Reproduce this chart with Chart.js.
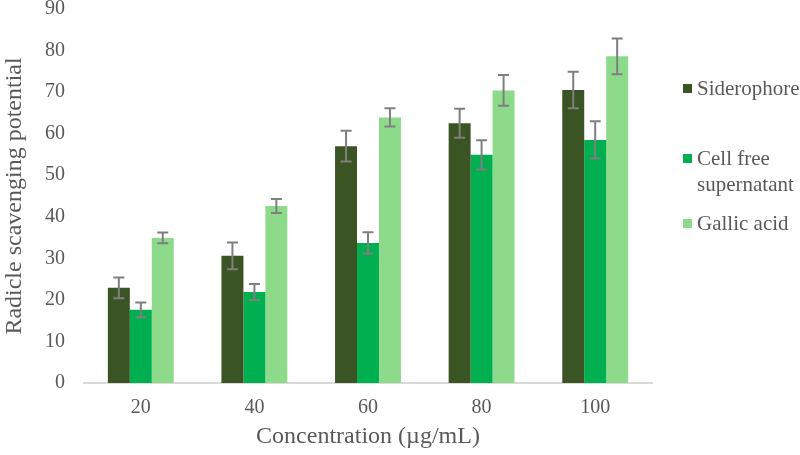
<!DOCTYPE html>
<html>
<head>
<meta charset="utf-8">
<script src="https://cdn.jsdelivr.net/npm/chart.js@4/dist/chart.umd.min.js"></script>
<style>
  html, body { margin: 0; padding: 0; background: #fff; }
  #wrap { position: relative; width: 800px; height: 455px; }
  #legenda { position: absolute; left: 683px; top: 75px; font-family: "Liberation Serif", serif; font-size: 21px; color: #595959; }
  #legenda .item { position: absolute; left: 0; white-space: nowrap; line-height: 26px; }
  #legenda .box { position: absolute; left: 0; top: 9px; width: 9px; height: 9px; }
  #legenda .txt { position: absolute; left: 14px; top: 0; }
</style>
</head>
<body>
<div id="wrap">
  <canvas id="grafico" width="800" height="455"></canvas>
  <div id="legenda"></div>
</div>
<script>
// dados
const concentracoes = ['20', '40', '60', '80', '100'];
const siderophore = [22.9, 30.6, 57.0, 62.5, 70.5];
const siderophoreErr = [2.5, 3.2, 3.7, 3.5, 4.4];
const cellFree = [17.6, 21.9, 33.7, 54.9, 58.5];
const cellFreeErr = [1.8, 1.9, 2.6, 3.5, 4.5];
const gallic = [34.9, 42.6, 63.9, 70.4, 78.6];
const gallicErr = [1.3, 1.7, 2.2, 3.7, 4.3];
const yTicks = [0, 10, 20, 30, 40, 50, 60, 70, 80, 90];

const series = [
    { label: ['Siderophore'], data: siderophore, err: siderophoreErr, color: '#3a5423', top: 0 },
    { label: ['Cell free', 'supernatant'], data: cellFree, err: cellFreeErr, color: '#00b050', top: 70 },
    { label: ['Gallic acid'], data: gallic, err: gallicErr, color: '#8ddb8a', top: 135 }
];

const fonte = '"Liberation Serif", "Times New Roman", serif';
const cinza = '#595959';

// barras de erro desenhadas por cima das barras
const errorBars = {
    id: 'errorBars',
    afterDatasetsDraw(chart) {
        const ctx = chart.ctx;
        const y = chart.scales.y;
        ctx.save();
        ctx.strokeStyle = '#7f7f7f';
        ctx.lineWidth = 2;
        chart.data.datasets.forEach((ds, i) => {
            const meta = chart.getDatasetMeta(i);
            meta.data.forEach((bar, j) => {
                const v = ds.data[j];
                const e = ds.err[j];
                const yTop = y.getPixelForValue(v + e);
                const yBot = y.getPixelForValue(v - e);
                const x = bar.x;
                ctx.beginPath();
                ctx.moveTo(x, yTop); ctx.lineTo(x, yBot);
                ctx.moveTo(x - 5.5, yTop); ctx.lineTo(x + 5.5, yTop);
                ctx.moveTo(x - 5.5, yBot); ctx.lineTo(x + 5.5, yBot);
                ctx.stroke();
            });
        });
        ctx.restore();
    }
};

new Chart(document.getElementById('grafico'), {
    type: 'bar',
    data: {
        labels: concentracoes,
        datasets: series.map(s => ({
            label: s.label.join(' '),
            data: s.data,
            err: s.err,
            backgroundColor: s.color,
            borderWidth: 0,
            barPercentage: 1,
            categoryPercentage: 0.58
        }))
    },
    options: {
        responsive: false,
        animation: false,
        layout: { padding: { top: 0, right: 148, bottom: 4, left: 0 } },
        plugins: { legend: { display: false }, tooltip: { enabled: false } },
        scales: {
            x: {
                grid: { display: false, drawTicks: false },
                border: { color: '#d9d9d9', width: 2 },
                ticks: { color: cinza, font: { family: fonte, size: 20, lineHeight: 1 }, padding: 15 },
                title: { display: true, text: 'Concentration (µg/mL)', color: cinza, font: { family: fonte, size: 24 }, padding: { top: 0, bottom: 0 } },
                afterFit: axis => { axis.height = 68; }
            },
            y: {
                min: 0, max: 90,
                afterBuildTicks: axis => { axis.ticks = yTicks.map(v => ({ value: v })); },
                grid: { display: false, drawTicks: false },
                border: { display: false },
                ticks: { color: cinza, font: { family: fonte, size: 20 }, padding: 19 },
                title: { display: true, text: 'Radicle scavenging potential', color: cinza, font: { family: fonte, size: 24 }, padding: { top: 0, bottom: 0 } },
                afterFit: axis => { axis.width = 84; axis.paddingTop = 9; axis.paddingBottom = 9; }
            }
        }
    },
    plugins: [errorBars]
});

// legenda em HTML (quebra de linha como no original)
const legenda = document.getElementById('legenda');
series.forEach(s => {
    const item = document.createElement('div');
    item.className = 'item';
    item.style.top = s.top + 'px';
    item.innerHTML = '<span class="box" style="background:' + s.color + '"></span><span class="txt">' + s.label.join('<br>') + '</span>';
    legenda.appendChild(item);
});
</script>
</body>
</html>
